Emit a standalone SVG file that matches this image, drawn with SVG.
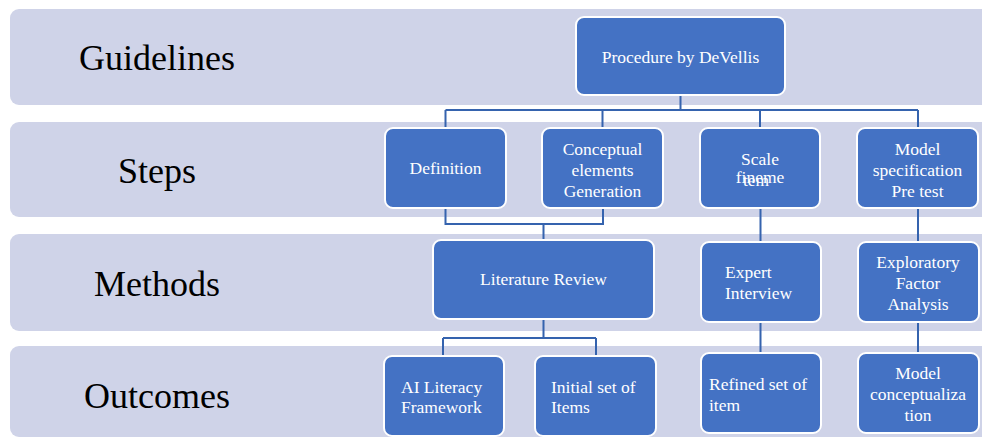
<svg xmlns="http://www.w3.org/2000/svg" width="982" height="439" viewBox="0 0 982 439">
  <style>
    .band { fill: #CFD3E8; }
    .label { font-family: "Liberation Serif", "Times New Roman", serif; font-size: 36px; fill: #000; text-anchor: middle; }
    .box { fill: #4472C4; stroke: #FFFFFF; stroke-width: 2; }
    .t { font-family: "Liberation Serif", "Times New Roman", serif; font-size: 17.5px; fill: #FFFFFF; text-anchor: middle; }
    .tl { font-family: "Liberation Serif", "Times New Roman", serif; font-size: 17.5px; fill: #FFFFFF; }
    .link { fill: none; stroke: #3563AE; stroke-width: 2; }
  </style>
  <rect width="982" height="439" fill="#FFFFFF"/>

  <!-- row bands -->
  <g id="bands">
    <rect class="band" x="10" y="9" width="990" height="96" rx="9"/>
    <rect class="band" x="10" y="122" width="990" height="95" rx="9"/>
    <rect class="band" x="10" y="234" width="990" height="97" rx="9"/>
    <rect class="band" x="10" y="346" width="990" height="91" rx="9"/>
  </g>

  <!-- row labels -->
  <g id="row-labels">
    <text class="label" x="157" y="70">Guidelines</text>
    <text class="label" x="157" y="183">Steps</text>
    <text class="label" x="157" y="296">Methods</text>
    <text class="label" x="157" y="408">Outcomes</text>
  </g>

  <!-- connectors -->
  <g id="connectors">
    <path class="link" d="M680.5 95 V110 M445.5 110 H918 M445.5 110 V128 M602.5 110 V128 M760 110 V128 M918 110 V128"/>
    <path class="link" d="M445.5 208 V224 H603 V208 M543.5 224 V240"/>
    <path class="link" d="M760.5 208 V242 M760.5 322 V353"/>
    <path class="link" d="M918 208 V242 M918 322 V353"/>
    <path class="link" d="M543.5 319 V338 M443 338 H596 M443 338 V356 M596 338 V356"/>
  </g>

  <!-- guideline -->
  <g id="procedure">
    <rect class="box" x="576" y="17" width="209" height="78" rx="8"/>
    <text class="t" x="680.5" y="63">Procedure by DeVellis</text>
  </g>

  <!-- steps -->
  <g id="definition">
    <rect class="box" x="385" y="128" width="121" height="80" rx="8"/>
    <text class="t" x="445.5" y="174">Definition</text>
  </g>
  <g id="conceptual-elements">
    <rect class="box" x="542" y="128" width="121" height="80" rx="8"/>
    <text class="t" x="602.5" y="155">Conceptual</text>
    <text class="t" x="602.5" y="176">elements</text>
    <text class="t" x="602.5" y="197">Generation</text>
  </g>
  <g id="scale-refinement">
    <rect class="box" x="700" y="128" width="120" height="80" rx="8"/>
    <text class="t" x="760" y="165">Scale</text>
    <text class="t" x="760" y="183">fineme</text>
    <text class="t" x="756" y="186">tem</text>
  </g>
  <g id="model-specification">
    <rect class="box" x="857" y="128" width="121" height="80" rx="8"/>
    <text class="t" x="917.5" y="155">Model</text>
    <text class="t" x="917.5" y="176">specification</text>
    <text class="t" x="917.5" y="197">Pre test</text>
  </g>

  <!-- methods -->
  <g id="literature-review">
    <rect class="box" x="433" y="240" width="221" height="79" rx="8"/>
    <text class="t" x="543.5" y="285">Literature Review</text>
  </g>
  <g id="expert-interview">
    <rect class="box" x="701" y="242" width="120" height="80" rx="8"/>
    <text class="tl" x="725" y="278">Expert</text>
    <text class="tl" x="725" y="299">Interview</text>
  </g>
  <g id="exploratory-factor-analysis">
    <rect class="box" x="858" y="242" width="121" height="80" rx="8"/>
    <text class="t" x="918" y="268">Exploratory</text>
    <text class="t" x="918" y="289">Factor</text>
    <text class="t" x="918" y="310">Analysis</text>
  </g>

  <!-- outcomes -->
  <g id="ai-literacy-framework">
    <rect class="box" x="384" y="356" width="120" height="80" rx="8"/>
    <text class="tl" x="401" y="393">AI Literacy</text>
    <text class="tl" x="401" y="413">Framework</text>
  </g>
  <g id="initial-items">
    <rect class="box" x="535" y="356" width="121" height="80" rx="8"/>
    <text class="tl" x="551" y="393">Initial set of</text>
    <text class="tl" x="551" y="413">Items</text>
  </g>
  <g id="refined-items">
    <rect class="box" x="701" y="353" width="120" height="80" rx="8"/>
    <text class="tl" x="709" y="390">Refined set of</text>
    <text class="tl" x="709" y="411">item</text>
  </g>
  <g id="model-conceptualization">
    <rect class="box" x="858" y="353" width="121" height="80" rx="8"/>
    <text class="t" x="918" y="379">Model</text>
    <text class="t" x="918" y="400">conceptualiza</text>
    <text class="t" x="918" y="421">tion</text>
  </g>
</svg>
